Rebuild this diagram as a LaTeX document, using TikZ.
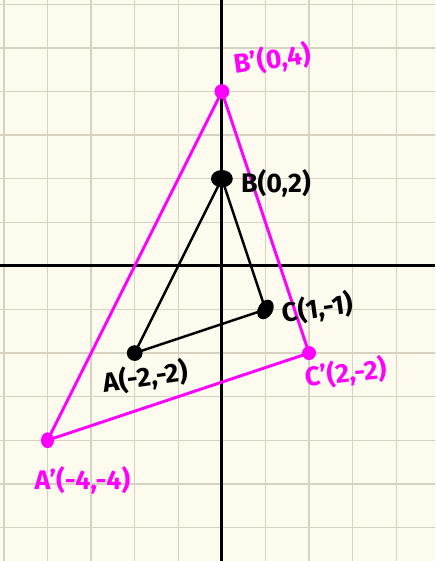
\documentclass[tikz,border=0pt]{standalone}
\usepackage{fontspec}
\newfontfamily\handfont{Fira Sans}
\usetikzlibrary{positioning}
\definecolor{paper}{RGB}{253,251,237}
\definecolor{gridc}{RGB}{214,209,193}
\definecolor{pink}{RGB}{255,0,255}

\begin{document}
\begin{tikzpicture}[
  axis/.style={line width=2pt, black},
  gridline/.style={draw=gridc, line width=0.9pt},
  tri/.style={line width=1.6pt, line join=round},
  image/.style={tri, pink, line width=1.9pt},
  lbl/.style={font=\handfont\bfseries\fontsize{17.5}{20}\selectfont, inner sep=1pt},
  plbl/.style={lbl, text=pink},
]
  % paper and grid
  \fill[paper] (-5.09,-6.77) rectangle (4.89,6.10);
  \useasboundingbox (-5.09,-6.77) rectangle (4.89,6.10);
  \draw[gridline, step=1] (-5.09,-6.77) grid (4.89,6.10);
  \draw[axis] (-5.09,0) -- (4.89,0);
  \draw[axis] (0,-6.77) -- (0,6.10);

  % points
  \coordinate (A) at (-2,-2);
  \coordinate (B) at (0,2);
  \coordinate (C) at (1,-1);
  \coordinate (Ap) at (-4,-4);
  \coordinate (Bp) at (0,4);
  \coordinate (Cp) at (2,-2);

  % triangles
  \draw[image] (Ap) -- (Bp) -- (Cp) -- cycle;
  \draw[tri] (A) -- (B) -- (C) -- cycle;
  \fill[pink] (Ap) ellipse (0.15 and 0.18);
  \fill[pink] (Bp) circle (0.17);
  \fill[pink] (Cp) circle (0.16);
  \fill (A) circle (0.18);
  \fill (B) ellipse (0.25 and 0.2);
  \fill[rotate around={60:(C)}] (C) ellipse (0.24 and 0.17);

  % labels
  \node[lbl, right=4mm of B, yshift=-1mm] (lB) {B(0,2)};
  \node[lbl, right=3.5mm of C, yshift=-1mm, rotate=8] (lC) {C(1,-1)};
  \node[lbl, below=2mm of A, xshift=2mm, rotate=8] (lA) {A(-2,-2)};
  \node[plbl, above right=2.5mm and 3mm of Bp, rotate=8] (lBp) {B’(0,4)};
  \node[plbl, below=1mm of Cp, xshift=8mm, rotate=6] (lCp) {C’(2,-2)};
  \node[plbl, below=5.5mm of Ap, xshift=8mm] (lAp) {A’(-4,-4)};
\end{tikzpicture}
\end{document}
